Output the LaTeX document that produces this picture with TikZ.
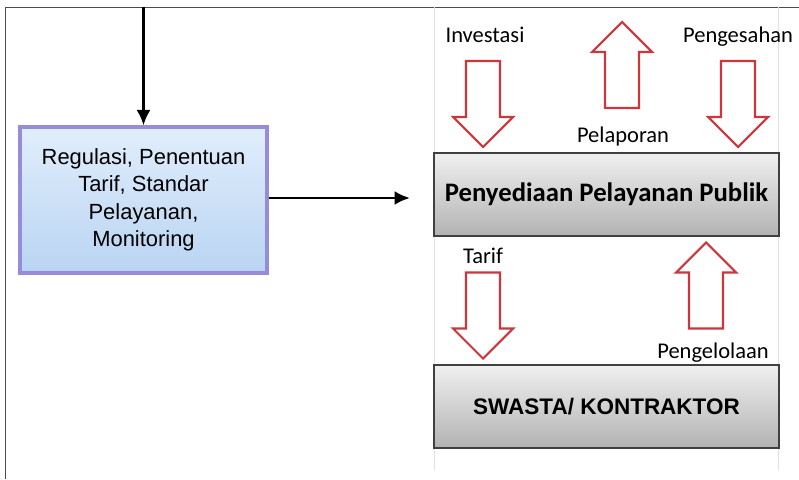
\documentclass[tikz,border=0pt]{standalone}
\usepackage{fontspec}
\setmainfont{Carlito}
\newfontfamily\arialfont{Liberation Sans}
\usetikzlibrary{arrows.meta}
\definecolor{blkred}{RGB}{205,55,60}
\definecolor{regedge}{RGB}{150,140,215}
\definecolor{regtop}{RGB}{225,238,252}
\definecolor{regbot}{RGB}{185,212,242}
\tikzset{
	pics/blk/.style={code={
		\draw[blkred,line width=1.5pt,line join=miter,fill=white]
			(-17,-43) -- (17,-43) -- (17,13) -- (30,13) -- (0,43)
			-- (-30,13) -- (-17,13) -- cycle;
	}},
}
\begin{document}
\begin{tikzpicture}[x=0.025cm,y=-0.025cm,
	regbox/.style={draw=regedge,line width=2.2pt,top color=regtop,bottom color=regbot,
		minimum width=61.75mm,minimum height=36.5mm,align=center,
		font=\arialfont\fontsize{15.6}{19.5}\selectfont},
	greybox/.style={draw=black!75,line width=0.8pt,top color=black!6,middle color=black!14,
		bottom color=black!30,minimum width=86.25mm,minimum height=20.75mm},
	lbl/.style={anchor=base,font=\fontsize{16}{19}\selectfont},
	conn/.style={line width=2pt,-{Latex[length=11pt,width=10pt]}}]
		\useasboundingbox (0,0) rectangle (799,479);
		% frame
		\draw[black!70,line width=0.7pt] (5,479) -- (5,7) -- (799,7);
		\draw[black!12,line width=0.7pt] (434,7) -- (434,470) (778,7) -- (778,470);
		% boxes
		\node[regbox] (reg) at (143.5,200) {Regulasi, Penentuan\\Tarif, Standar\\Pelayanan,\\Monitoring};
		\node[greybox,font=\bfseries\fontsize{19}{22}\selectfont] (pub) at (606.5,194.5) {Penyediaan Pelayanan Publik};
		\node[greybox,font=\arialfont\bfseries\fontsize{16}{19}\selectfont] (swa) at (606.5,406.5) {SWASTA/ KONTRAKTOR};
		% connectors
		\coordinate (top) at (reg.north |- 0,7);
		\coordinate (end) at (410,198);
		\draw[conn] (top) -- (reg.north);
		\draw[conn] (reg.east |- end) -- (end);
		% block arrows
		\pic at (483,104) {blk};
		\pic at (738,104) {blk};
		\pic[rotate=180] at (622,65) {blk};
		\pic at (483,315.5) {blk};
		\pic[rotate=180] at (706,285.5) {blk};
		% labels
		\node[lbl] (inv) at (485,43) {Investasi};
		\node[lbl] (pen) at (738,43) {Pengesahan};
		\node[lbl] (lap) at (623,142) {Pelaporan};
		\node[lbl] (tar) at (483,263) {Tarif};
		\node[lbl] (kel) at (713,358) {Pengelolaan};
\end{tikzpicture}
\end{document}
